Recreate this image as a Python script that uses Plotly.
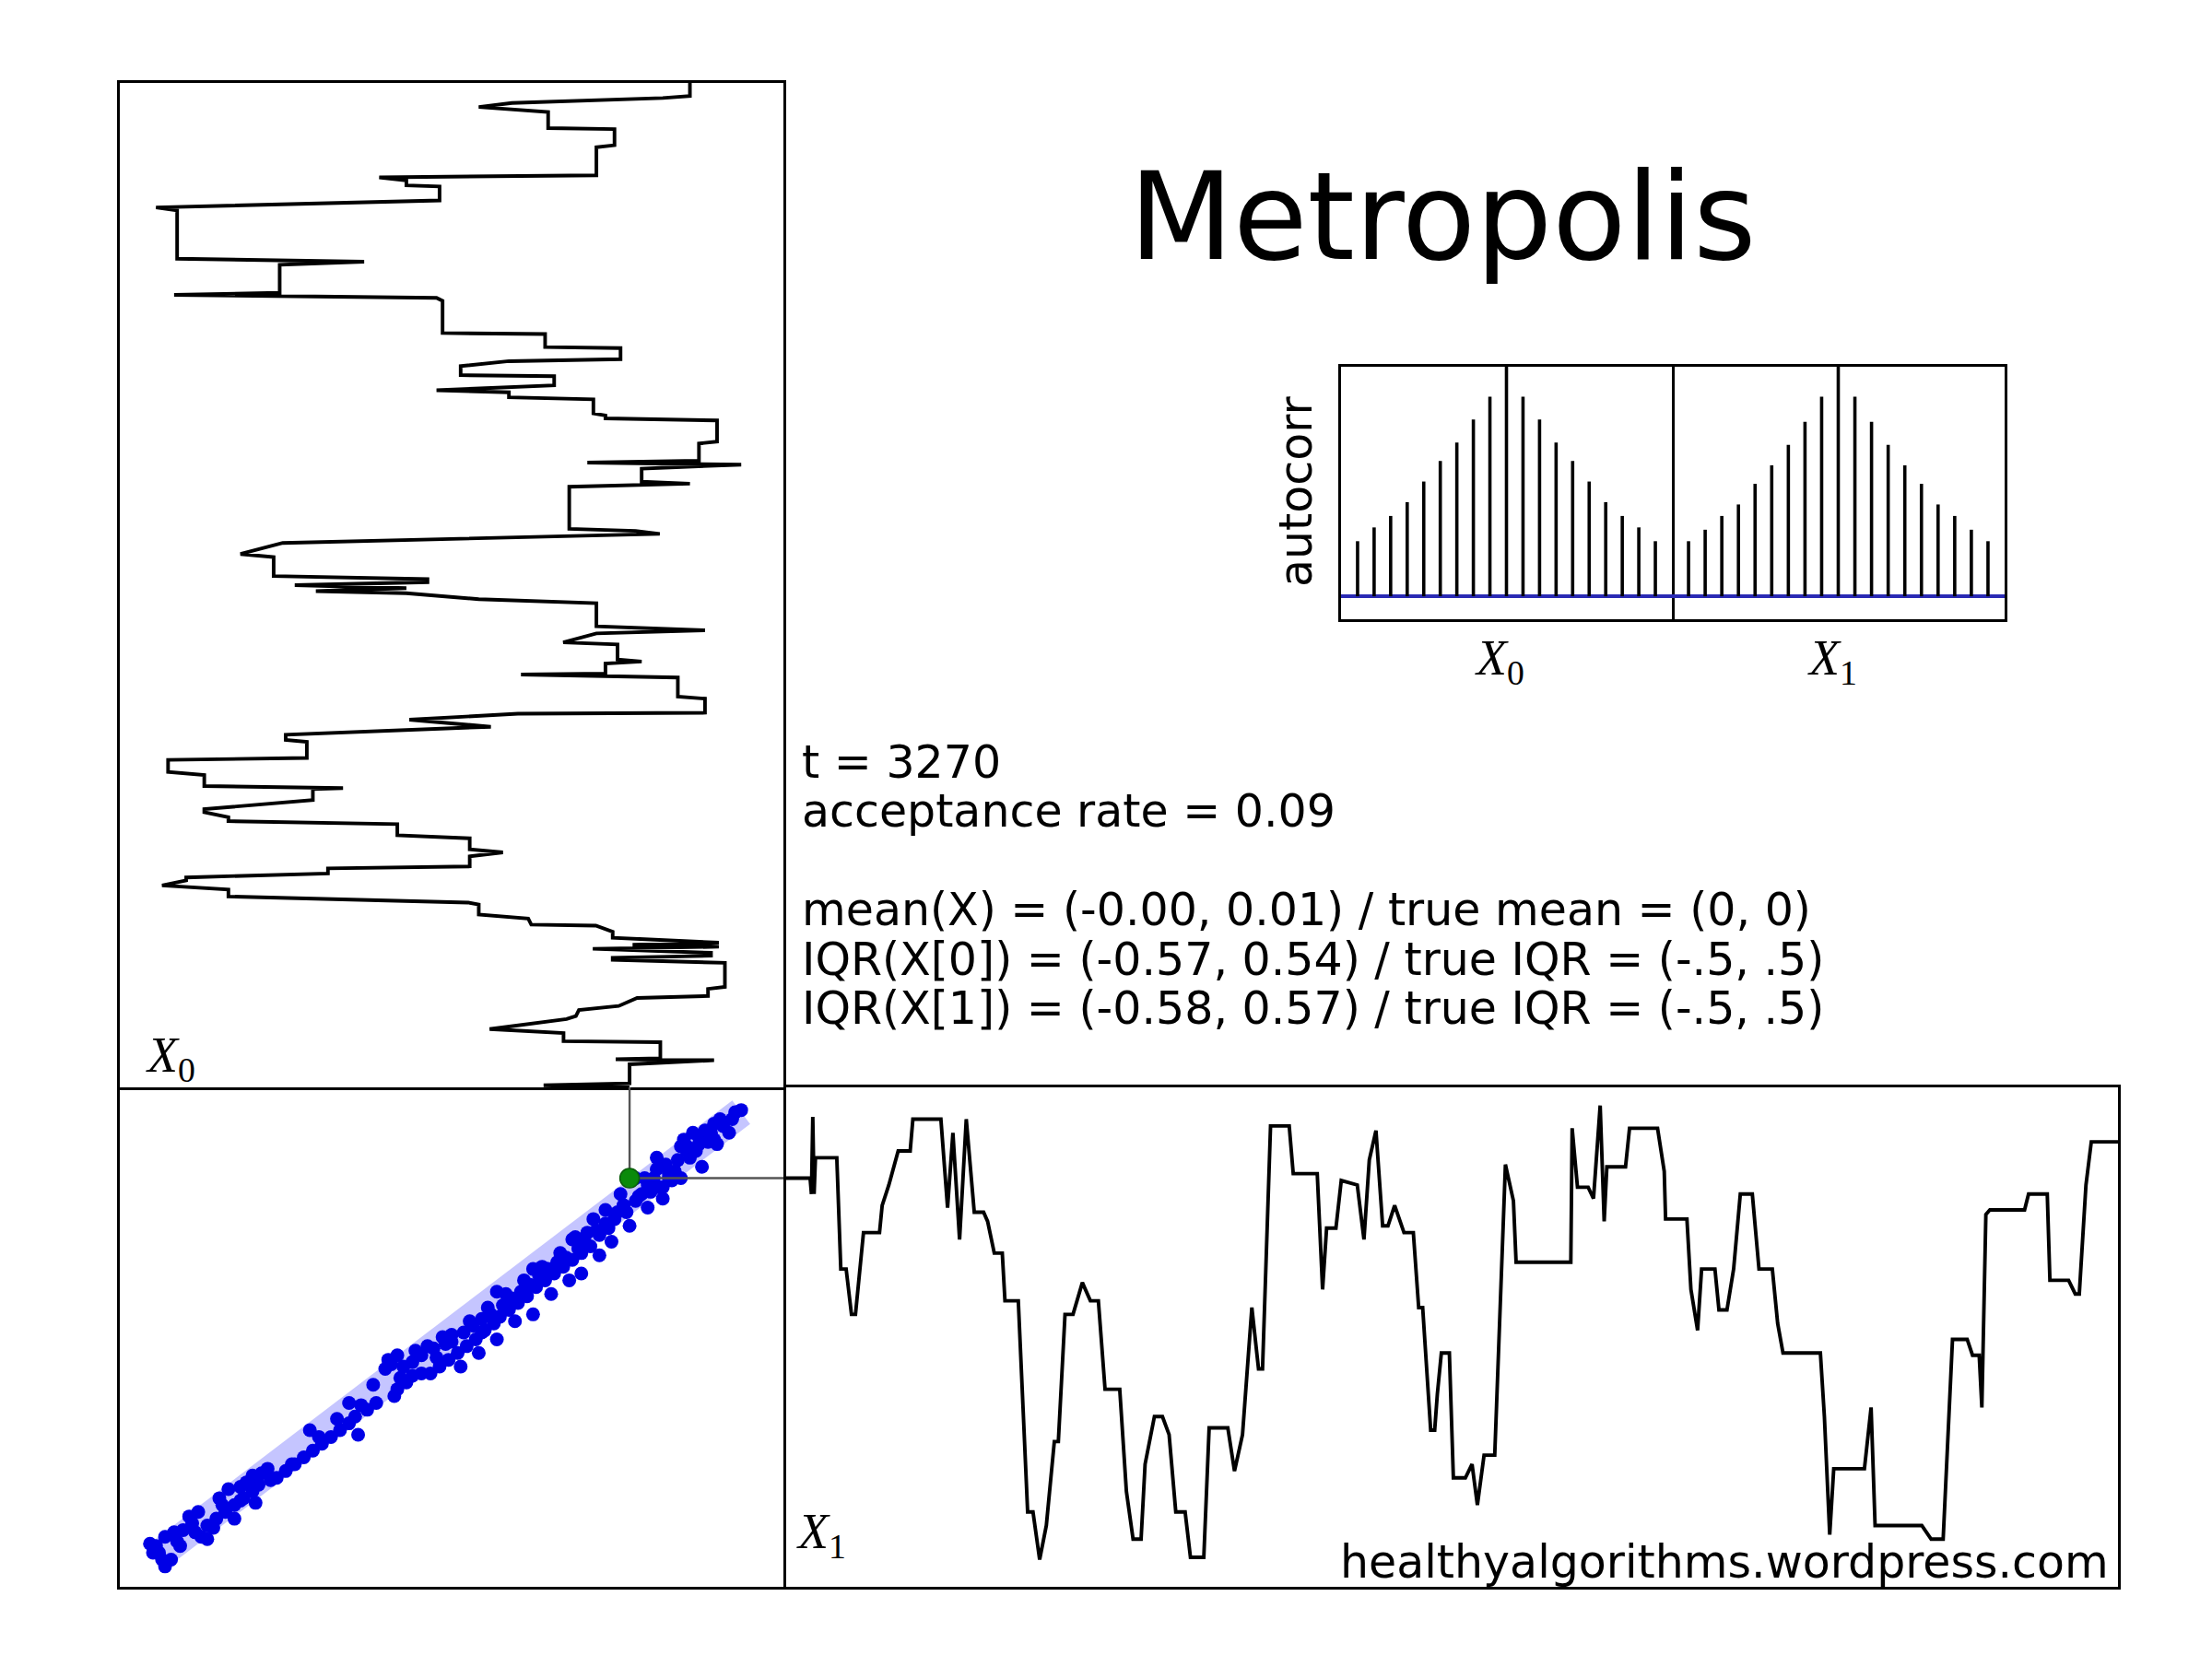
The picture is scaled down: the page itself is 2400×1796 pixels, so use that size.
import plotly.graph_objects as go

W, H = 2400, 1796

# ---------------- data ----------------
x0_now = 0.59
x1_now = 0.70

# X0 trace (top-left panel): steps before now (lag) and value
x0_lag = [1000, 987, 985, 980, 976, 974, 971, 955, 954, 938, 936, 908, 906, 903, 898, 897, 883, 876, 873, 825,
          822, 819, 791, 789, 786, 783, 751, 750, 737, 736, 725, 723, 718, 709, 708, 699, 694, 692, 687, 685,
          671, 669, 666, 664, 643, 641, 624, 622, 620, 616, 603, 601, 598, 556, 554, 551, 542, 531, 528, 509,
          506, 503, 500, 497, 494, 492, 486, 482, 459, 455, 452, 443, 441, 426, 424, 422, 412, 411, 408, 389,
          387, 373, 372, 366, 359, 351, 346, 344, 328, 326, 314, 311, 300, 298, 297, 286, 277, 274, 269, 265,
          262, 251, 248, 237, 234, 230, 220, 218, 213, 209, 206, 201, 197, 190,
          184, 182, 172, 168, 162, 161, 155, 149, 144, 142, 140, 138, 134, 131, 129, 127, 124, 100, 98, 91,
          89, 81, 77, 71, 68, 58, 54, 46, 45, 29, 28, 27, 23, 4, 2, 0]
x0_val = [0.79, 0.79, 0.70, 0.20, 0.09, 0.20, 0.32, 0.32, 0.54, 0.54, 0.48, 0.48, -0.24, -0.15, -0.15, -0.04, -0.04, -0.98, -0.91, -0.91,
          -0.29, -0.57, -0.57, -0.92, -0.05, -0.03, -0.03, 0.31, 0.31, 0.56, 0.56, 0.19, 0.03, 0.03, 0.34, 0.34, -0.05, 0.19, 0.19, 0.47,
          0.47, 0.51, 0.51, 0.88, 0.88, 0.82, 0.82, 0.45, 0.96, 0.63, 0.63, 0.79, 0.39, 0.39, 0.61, 0.69, -0.56, -0.70, -0.59, -0.59,
          -0.08, -0.08, -0.52, -0.15, -0.45, -0.15, 0.09, 0.48, 0.48, 0.84, 0.48, 0.37, 0.55, 0.55, 0.63, 0.51, 0.51, 0.23, 0.75, 0.75,
          0.84, 0.84, 0.22, -0.14, 0.13, -0.55, -0.55, -0.48, -0.48, -0.94, -0.94, -0.82, -0.82, -0.36, -0.46, -0.46, -0.82, -0.82, -0.74, -0.74,
          -0.18, -0.18, 0.06, 0.06, 0.17, 0.06, 0.06, -0.41, -0.41, -0.88, -0.88, -0.96, -0.74, -0.74,
          0.055, 0.09, 0.09, 0.254, 0.264, 0.478, 0.534, 0.534, 0.886, 0.60, 0.886, 0.468, 0.860, 0.860, 0.534, 0.534, 0.906, 0.906, 0.850, 0.850,
          0.615, 0.554, 0.422, 0.412, 0.381, 0.126, 0.371, 0.371, 0.692, 0.692, 0.544, 0.870, 0.590, 0.590, 0.305, 0.59]

# X1 trace (bottom-right panel)
x1_lag = [0, 20, 21, 22, 23, 24, 40, 43, 47, 51, 54, 60, 72, 74, 79, 86, 95, 97, 118, 123,
          127, 132, 137, 143, 150, 153, 158, 164, 166, 176, 183, 187, 192, 197, 203, 206, 211, 217, 224, 230,
          236, 241, 252, 257, 262, 268, 271, 278, 284, 289, 294, 301, 305, 315, 319, 333, 338, 344, 351, 356,
          359, 361, 365, 379, 382, 400, 404, 407, 414, 418, 430, 435, 439, 444, 449, 453, 458, 465, 472, 476,
          479, 485, 488, 490, 493, 499, 502, 511, 516, 520, 525, 533, 541, 547, 549, 590, 591, 595, 603, 607,
          612, 615, 617, 631, 634, 655, 660, 661, 677, 680, 685, 688, 698, 701, 707, 712, 717, 726, 731, 741,
          745, 749, 777, 780, 784, 787, 810, 815, 818, 853, 860, 869, 876, 887, 891, 896, 898, 901, 904, 930,
          933, 947, 949, 963, 968, 971, 976, 980, 1000]
x1_val = [0.70, 0.70, 0.63, 0.97, 0.63, 0.79, 0.79, 0.30, 0.30, 0.10, 0.10, 0.46, 0.46, 0.58, 0.67, 0.82, 0.82, 0.96, 0.96, 0.57,
          0.90, 0.43, 0.96, 0.55, 0.55, 0.51, 0.37, 0.37, 0.16, 0.16, -0.77, -0.77, -0.98, -0.83, -0.46, -0.46, 0.10, 0.10, 0.24, 0.16,
          0.16, -0.23, -0.23, -0.68, -0.89, -0.89, -0.56, -0.35, -0.35, -0.43, -0.77, -0.77, -0.97, -0.97, -0.40, -0.40, -0.59, -0.43, 0.13, -0.14,
          -0.14, 0.24, 0.93, 0.93, 0.72, 0.72, 0.21, 0.48, 0.48, 0.69, 0.67, 0.43, 0.78, 0.91, 0.49, 0.49, 0.58, 0.46, 0.46, 0.13,
          0.13, -0.41, -0.41, -0.25, -0.07, -0.07, -0.62, -0.62, -0.56, -0.74, -0.52, -0.52, 0.76, 0.60, 0.33, 0.33, 0.92, 0.66, 0.66, 0.61,
          1.02, 0.51, 0.75, 0.75, 0.92, 0.92, 0.73, 0.52, 0.52, 0.21, 0.03, 0.30, 0.30, 0.12, 0.12, 0.30, 0.63, 0.63, 0.30, 0.30,
          0.06, -0.07, -0.07, -0.35, -0.87, -0.58, -0.58, -0.31, -0.83, -0.83, -0.89, -0.89, -0.01, -0.01, -0.08, -0.08, -0.31, 0.54, 0.56, 0.56,
          0.63, 0.63, 0.25, 0.25, 0.19, 0.19, 0.67, 0.86, 0.86]

# recent samples (scatter, blue dots)
sample_x0 = [0.96, 0.93, 0.90, 0.87, 0.84, 0.82, 0.80, 0.77, 0.76, 0.79, 0.83, 0.74, 0.71, 0.68, 0.67, 0.73, 0.76, 0.65,
             0.63, 0.70, 0.61, 0.65, 0.58, 0.54, 0.59, 0.52, 0.49, 0.53, 0.46, 0.43, 0.49, 0.40, 0.37, 0.43, 0.34, 0.31,
             0.39, 0.28, 0.33, 0.25, 0.22, 0.19, 0.27, 0.16, 0.14, 0.21, 0.11, 0.08, 0.15, 0.05, 0.02, 0.09, -0.01, -0.04,
             0.03, -0.07, -0.10, -0.13, -0.15, -0.18, -0.21, -0.22, -0.13, -0.10, -0.19, -0.25, -0.28, -0.32, -0.34, -0.37,
             -0.40, -0.34, -0.31, -0.43, -0.46, -0.49, -0.47, -0.52, -0.55, -0.58, -0.61, -0.64, -0.66, -0.69, -0.66, -0.72,
             -0.74, -0.75, -0.78, -0.81, -0.83, -0.84, -0.87, -0.89, -0.92, -0.95, -0.98, -1.00, -0.99, -0.93, -0.95, -0.81,
             0.47, 0.56, 0.45, 0.36, 0.30, 0.24, 0.18, 0.12, 0.06, 0.00, -0.06, 0.81, 0.87, 0.92, 0.61, -0.72, -0.77,
             -0.65, -0.68, -0.90, -0.96, 0.88, 0.70, 0.57, 0.41, 0.35, 0.20, 0.10, -0.02,
             -0.20, -0.18, -0.16, -0.12, -0.08, -0.05, 0.00, 0.04, 0.07, 0.10, 0.13, 0.17, 0.20, 0.23, 0.26, 0.29,
             0.32, 0.35, 0.38, 0.42, 0.44, 0.48, 0.51, 0.55, 0.57, 0.62, 0.66, 0.69, 0.72, 0.75, 0.78, 0.82,
             0.86, 0.89, 0.94, -0.60, -0.63, -0.70, -0.76, -0.79, -0.86, -0.91, -0.97, -0.44, -0.38, -0.30, -0.26,
             0.64, 0.68, 0.72, 0.78, 0.85, 0.51, 0.40, 0.27, 0.15, -0.03, -0.17, -0.53, -0.70, -0.85]
sample_x1 = [1.00, 0.96, 0.93, 0.94, 0.91, 0.88, 0.90, 0.87, 0.84, 0.79, 0.75, 0.73, 0.76, 0.79, 0.70, 0.69, 0.70, 0.67,
             0.63, 0.61, 0.60, 0.57, 0.55, 0.52, 0.49, 0.48, 0.45, 0.42, 0.40, 0.37, 0.36, 0.34, 0.31, 0.28, 0.28, 0.25,
             0.25, 0.22, 0.19, 0.18, 0.15, 0.12, 0.10, 0.09, 0.06, 0.07, 0.03, -0.01, -0.01, -0.04, -0.07, -0.07, -0.10, -0.13,
             -0.13, -0.16, -0.16, -0.17, -0.20, -0.23, -0.10, -0.14, -0.11, -0.08, -0.26, -0.29, -0.32, -0.35, -0.38, -0.41,
             -0.44, -0.29, -0.43, -0.47, -0.50, -0.53, -0.41, -0.56, -0.59, -0.62, -0.58, -0.65, -0.68, -0.71, -0.61, -0.74,
             -0.67, -0.77, -0.80, -0.83, -0.88, -0.77, -0.79, -0.85, -0.86, -0.88, -0.92, -0.91, -0.95, -0.98, -1.01, -0.89,
             0.52, 0.63, 0.46, 0.37, 0.31, 0.25, 0.19, 0.13, 0.07, 0.01, -0.05, 0.82, 0.87, 0.90, 0.70, -0.80, -0.71,
             -0.73, -0.64, -0.92, -0.98, 0.85, 0.66, 0.58, 0.44, 0.31, 0.15, 0.02, -0.03,
             -0.12, -0.08, -0.13, -0.06, -0.04, -0.09, -0.02, 0.02, 0.05, 0.08, 0.10, 0.14, 0.17, 0.20, 0.23, 0.27,
             0.30, 0.33, 0.35, 0.39, 0.43, 0.47, 0.50, 0.55, 0.58, 0.62, 0.64, 0.66, 0.72, 0.78, 0.82, 0.85,
             0.90, 0.96, 0.99, -0.63, -0.60, -0.66, -0.74, -0.84, -0.82, -0.90, -0.95, -0.44, -0.36, -0.30, -0.21,
             0.70, 0.74, 0.70, 0.84, 0.86, 0.56, 0.43, 0.30, 0.20, 0.00, -0.18, -0.56, -0.72, -0.86]

# faded history band (ends of the band of all past samples)
band_x0 = [-0.98, 0.96]
band_x1 = [-0.97, 0.99]

# autocorrelation
lags = [-9, -8, -7, -6, -5, -4, -3, -2, -1, 0, 1, 2, 3, 4, 5, 6, 7, 8, 9]
acorr_x0 = [0.24, 0.30, 0.35, 0.41, 0.50, 0.59, 0.67, 0.77, 0.87, 1.0, 0.87, 0.77, 0.67, 0.59, 0.50, 0.41, 0.35, 0.30, 0.24]
acorr_x1 = [0.24, 0.29, 0.35, 0.40, 0.49, 0.57, 0.66, 0.76, 0.87, 1.0, 0.87, 0.76, 0.66, 0.57, 0.49, 0.40, 0.35, 0.29, 0.24]

title_text = "Metropolis"
stat_lines = ["t = 3270",
              "acceptance rate = 0.09",
              "mean(X) = (-0.00, 0.01) / true mean = (0, 0)",
              "IQR(X[0]) = (-0.57, 0.54) / true IQR = (-.5, .5)",
              "IQR(X[1]) = (-0.58, 0.57) / true IQR = (-.5, .5)"]
credit = "healthyalgorithms.wordpress.com"

# ---------------- layout helpers ----------------
def px(x):
    return x / W

def py(y):
    return 1 - y / H

L, M, R = 122, 842, 2290
T, MID, B = 82, 1172, 1714
AL, AM, AR, AT, AB = 1447, 1806, 2167, 390, 664
VR = [-1.1, 1.1]
LAGR = [0, 1000]
LW = 3.9
BW = 3.0

fig = go.Figure()

# top-left: X0 trace, time running downward towards "now"
fig.add_trace(go.Scatter(x=x0_val, y=x0_lag, mode="lines",
                         line=dict(color="black", width=LW), xaxis="x", yaxis="y",
                         hoverinfo="skip"))

# bottom-left: scatter of samples
fig.add_trace(go.Scatter(x=band_x0, y=band_x1, mode="lines",
                         line=dict(color="rgba(110,110,255,0.4)", width=32),
                         xaxis="x2", yaxis="y2", hoverinfo="skip"))
fig.add_trace(go.Scatter(x=sample_x0, y=sample_x1, mode="markers",
                         marker=dict(color="#0000e6", size=15, line=dict(width=0)),
                         xaxis="x2", yaxis="y2", hoverinfo="skip"))
# connectors from current point to the two trace panels
fig.add_trace(go.Scatter(x=[x0_now, x0_now, None, x0_now, VR[1]],
                         y=[x1_now, VR[1], None, x1_now, x1_now], mode="lines",
                         line=dict(color="#555555", width=2.4), xaxis="x2", yaxis="y2",
                         hoverinfo="skip", cliponaxis=False))
fig.add_trace(go.Scatter(x=[x0_now], y=[x1_now], mode="markers",
                         marker=dict(color="#0a8a0a", size=21, line=dict(color="#0b5e0b", width=1.5)),
                         xaxis="x2", yaxis="y2", hoverinfo="skip"))

# bottom-right: X1 trace
fig.add_trace(go.Scatter(x=x1_lag, y=x1_val, mode="lines",
                         line=dict(color="black", width=LW), xaxis="x3", yaxis="y3",
                         hoverinfo="skip"))

# autocorrelation stems
def stems(vals):
    xs, ys = [], []
    for lg, v in zip(lags, vals):
        xs += [lg, lg, None]
        ys += [0, v, None]
    return xs, ys

for vals, xa, ya in [(acorr_x0, "x4", "y4"), (acorr_x1, "x5", "y5")]:
    sx, sy = stems(vals)
    fig.add_trace(go.Scatter(x=[-10, 10], y=[0, 0], mode="lines",
                             line=dict(color="#2a2ab4", width=4), xaxis=xa, yaxis=ya,
                             hoverinfo="skip"))
    fig.add_trace(go.Scatter(x=sx, y=sy, mode="lines",
                             line=dict(color="black", width=3.6), xaxis=xa, yaxis=ya,
                             hoverinfo="skip"))

ax_common = dict(showticklabels=False, ticks="", showgrid=False, zeroline=False,
                 showline=True, linecolor="black", linewidth=BW)
box = dict(mirror=True, **ax_common)
single = dict(mirror=False, **ax_common)

fig.update_layout(
    width=W, height=H,
    margin=dict(l=0, r=0, t=0, b=0),
    paper_bgcolor="white", plot_bgcolor="white",
    showlegend=False,
    font=dict(family="DejaVu Sans", color="black"),
    xaxis=dict(domain=[px(L), px(M)], range=VR, **box),
    yaxis=dict(domain=[py(MID), py(T)], range=LAGR, **box),
    xaxis2=dict(domain=[px(L), px(M)], range=VR, anchor="y2", side="bottom", **single),
    yaxis2=dict(domain=[py(B), py(MID)], range=VR, anchor="x2", **box),
    xaxis3=dict(domain=[px(M), px(R)], range=LAGR, anchor="y3", **box),
    yaxis3=dict(domain=[py(B), py(MID)], range=VR, anchor="x3", side="right", **single),
    xaxis4=dict(domain=[px(AL), px(AM)], range=[-10, 10], anchor="y4", **box),
    yaxis4=dict(domain=[py(AB), py(AT)], range=[-0.1, 1.0], anchor="x4", **box),
    xaxis5=dict(domain=[px(AM), px(AR)], range=[-10, 10], anchor="y5", **box),
    yaxis5=dict(domain=[py(AB), py(AT)], range=[-0.1, 1.0], anchor="x5", side="right", **single),
)

ann = []
ann.append(dict(x=px(1557), y=py(228), xref="paper", yref="paper", text=title_text,
                showarrow=False, xanchor="center", yanchor="middle",
                font=dict(size=131, family="DejaVu Sans")))
for txt, yc in zip(stat_lines, [819, 872, 979, 1033, 1086]):
    ann.append(dict(x=px(860), y=py(yc), xref="paper", yref="paper", text=txt,
                    showarrow=False, xanchor="left", yanchor="middle",
                    font=dict(size=49, family="DejaVu Sans")))
ann.append(dict(x=px(2282), y=py(1687), xref="paper", yref="paper", text=credit,
                showarrow=False, xanchor="right", yanchor="middle",
                font=dict(size=49, family="DejaVu Sans")))
ann.append(dict(x=px(1398), y=py(526), xref="paper", yref="paper", text="autocorr",
                showarrow=False, textangle=-90, xanchor="center", yanchor="middle",
                font=dict(size=49, family="DejaVu Sans")))
serif = dict(size=54, family="Liberation Serif")
for lab, xc in [("0", 1619), ("1", 1980)]:
    ann.append(dict(x=px(xc), y=py(709), xref="paper", yref="paper",
                    text="<i>X</i><sub>%s</sub>" % lab, showarrow=False,
                    xanchor="center", yanchor="middle", font=serif))
ann.append(dict(x=px(148), y=py(1140), xref="paper", yref="paper",
                text="<i>X</i><sub>0</sub>", showarrow=False,
                xanchor="left", yanchor="middle", font=serif))
ann.append(dict(x=px(854), y=py(1657), xref="paper", yref="paper",
                text="<i>X</i><sub>1</sub>", showarrow=False,
                xanchor="left", yanchor="middle", font=serif))
fig.update_layout(annotations=ann)

fig.write_html("out.html")
